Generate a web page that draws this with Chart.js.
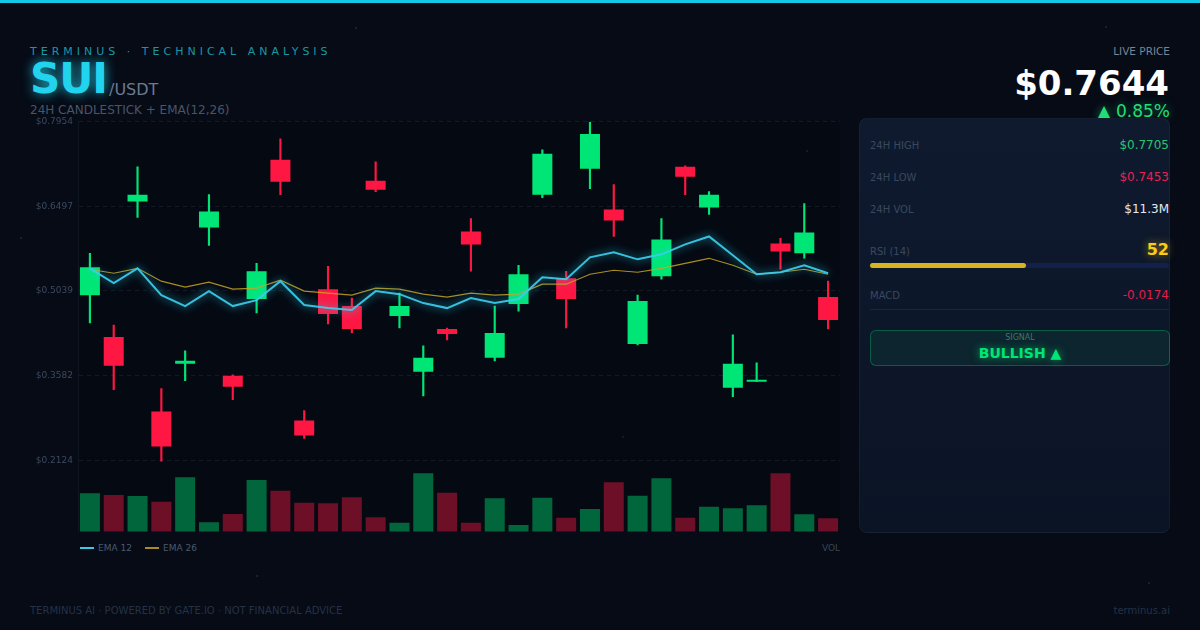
<!DOCTYPE html>
<html>
<head>
<meta charset="utf-8">
<script src="https://cdn.jsdelivr.net/npm/chart.js@4.4.1/dist/chart.umd.min.js"></script>
<style>
  html, body { margin: 0; padding: 0; }
  body {
    width: 1200px; height: 630px; overflow: hidden; position: relative;
    background: #060b16;
    font-family: "DejaVu Sans", sans-serif;
  }
  .topbar { position: absolute; left: 0; top: 0; width: 1200px; height: 3px; background: #14c8e6; }
  .t { position: absolute; white-space: nowrap; line-height: 1; }
  .dot { position: absolute; width: 2px; height: 2px; border-radius: 1px; background: #1c2a40; }
  #wrap { position: absolute; left: 30px; top: 100px; width: 810px; height: 432px; }
  .panel {
    position: absolute; left: 859px; top: 118px; width: 311px; height: 415px;
    border-radius: 8px; box-sizing: border-box;
    background: linear-gradient(180deg, #0f1a2f 0%, #0b1425 100%);
    border: 1px solid rgba(255,255,255,0.04);
  }
  .lbl { font-size: 10px; color: #3a485e; }
  .val { font-size: 12px; right: 31px; }
</style>
</head>
<body>
<div class="topbar"></div>
<div class="dot" style="left:355px;top:27px"></div>
<div class="dot" style="left:806px;top:150px"></div>
<div class="dot" style="left:622px;top:436px"></div>
<div class="dot" style="left:1105px;top:26px"></div>
<div class="dot" style="left:1148px;top:582px"></div>
<div class="dot" style="left:20px;top:237px"></div>
<div class="dot" style="left:256px;top:575px"></div>

<div class="t" style="left:30px;top:46px;font-size:11px;letter-spacing:4px;color:#1b96a6">TERMINUS · TECHNICAL ANALYSIS</div>
<div class="t" style="left:30px;top:58px;font-size:42px;font-weight:bold;letter-spacing:-1px;color:#22d3ee;text-shadow:0 0 12px rgba(34,211,238,0.85)">SUI</div>
<div class="t" style="left:109px;top:82px;font-size:16px;color:#6b7a90">/USDT</div>
<div class="t" style="left:30px;top:104px;font-size:12px;color:#485569">24H CANDLESTICK + EMA(12,26)</div>

<div class="t" style="right:30px;top:46px;font-size:10.5px;color:#7b8494">LIVE PRICE</div>
<div class="t" style="right:31px;top:66px;font-size:34px;font-weight:bold;color:#ffffff">$0.7644</div>
<div class="t" style="right:30px;top:103px;font-size:17px;color:#22dd77;text-shadow:0 0 8px rgba(34,221,119,0.5)">▲ 0.85%</div>

<div class="panel"></div>
<div class="t lbl" style="left:870px;top:141px">24H HIGH</div>
<div class="t val" style="top:139px;color:#27c76f">$0.7705</div>
<div class="t lbl" style="left:870px;top:173px">24H LOW</div>
<div class="t val" style="top:171px;color:#e8214f">$0.7453</div>
<div class="t lbl" style="left:870px;top:205px">24H VOL</div>
<div class="t val" style="top:203px;color:#e5e8ee">$11.3M</div>
<div class="t lbl" style="left:870px;top:247px">RSI (14)</div>
<div class="t" style="right:31px;top:242px;font-size:16px;font-weight:bold;color:#facc15;text-shadow:0 0 8px rgba(250,204,21,0.6)">52</div>
<div style="position:absolute;left:870px;top:263px;width:299px;height:5px;border-radius:3px;background:#12204a"></div>
<div style="position:absolute;left:870px;top:263px;width:156px;height:5px;border-radius:3px;background:#d6b320"></div>
<div class="t lbl" style="left:870px;top:291px">MACD</div>
<div class="t val" style="top:289px;color:#e11d48">-0.0174</div>
<div style="position:absolute;left:870px;top:309px;width:299px;height:1px;background:rgba(255,255,255,0.06)"></div>
<div style="position:absolute;left:870px;top:330px;width:300px;height:36px;box-sizing:border-box;border-radius:6px;border:1px solid rgba(0,230,118,0.3);background:rgba(0,230,118,0.07)"></div>
<div class="t" style="left:870px;width:300px;text-align:center;top:334px;font-size:8px;color:#3d7a6c">SIGNAL</div>
<div class="t" style="left:870px;width:300px;text-align:center;top:346px;font-size:14px;font-weight:bold;color:#00e676;text-shadow:0 0 8px rgba(0,230,118,0.7)">BULLISH ▲</div>

<div id="wrap"><canvas id="chart"></canvas></div>

<div style="position:absolute;left:80px;top:547px;width:14px;height:2px;background:#3cc8e6"></div>
<div class="t" style="left:98px;top:544px;font-size:9px;color:#4a5a70">EMA 12</div>
<div style="position:absolute;left:145px;top:547px;width:14px;height:2px;background:#a88c22"></div>
<div class="t" style="left:163px;top:544px;font-size:9px;color:#4a5a70">EMA 26</div>
<div class="t" style="right:360px;top:544px;font-size:9px;color:#3a4658">VOL</div>

<div class="t" style="left:30px;top:606px;font-size:10px;color:#253246">TERMINUS AI · POWERED BY GATE.IO · NOT FINANCIAL ADVICE</div>
<div class="t" style="right:30px;top:606px;font-size:10px;color:#253246">terminus.ai</div>

<script>
var candles = ['01','02','03','04','05','06','07','08','09','10','11','12','13','14','15','16',
               '17','18','19','20','21','22','23','24','25','26','27','28','29','30','31','32'];
var opens  = [0.4966, 0.4247, 0.6576, 0.2963, 0.3785, 0.6130, 0.3579, 0.4898, 0.7295, 0.2809, 0.5069, 0.4778, 0.6935, 0.4606, 0.3648, 0.4384,
              0.6062, 0.3887, 0.4812, 0.6695, 0.5257, 0.7141, 0.6439, 0.4127, 0.5291, 0.7175, 0.6473, 0.3374, 0.3476, 0.5856, 0.5685, 0.4932];
var closes = [0.5445, 0.3750, 0.6695, 0.2363, 0.3836, 0.6404, 0.3391, 0.5377, 0.6918, 0.2552, 0.4641, 0.4384, 0.6781, 0.4778, 0.3887, 0.4298,
              0.5839, 0.4315, 0.5326, 0.7397, 0.4898, 0.7740, 0.6250, 0.4863, 0.5925, 0.7004, 0.6695, 0.3785, 0.3511, 0.5719, 0.6045, 0.4538];
var highs  = [0.5685, 0.4452, 0.7175, 0.3356, 0.4007, 0.6695, 0.3596, 0.5514, 0.7654, 0.2980, 0.5463, 0.4915, 0.7261, 0.5000, 0.4093, 0.4401,
              0.6285, 0.4778, 0.5480, 0.7466, 0.5377, 0.7945, 0.6867, 0.4966, 0.6285, 0.7192, 0.6747, 0.4281, 0.3802, 0.5942, 0.6541, 0.5206];
var lows   = [0.4487, 0.3339, 0.6302, 0.2107, 0.3493, 0.5822, 0.3168, 0.4658, 0.6695, 0.2500, 0.4469, 0.4315, 0.6747, 0.4401, 0.3230, 0.4196,
              0.5377, 0.3836, 0.4692, 0.6644, 0.4401, 0.6798, 0.5976, 0.4110, 0.5240, 0.6695, 0.6353, 0.3220, 0.3476, 0.5411, 0.5600, 0.4384];
var ema12  = [0.5428, 0.5172, 0.5428, 0.4966, 0.4778, 0.5035, 0.4778, 0.4880, 0.5206, 0.4795, 0.4743, 0.4709, 0.5035, 0.4983, 0.4829, 0.4743,
              0.4915, 0.4829, 0.4898, 0.5274, 0.5240, 0.5617, 0.5702, 0.5582, 0.5668, 0.5839, 0.5976, 0.5651, 0.5326, 0.5360, 0.5480, 0.5343];
var ema26  = [0.5411, 0.5343, 0.5428, 0.5206, 0.5103, 0.5189, 0.5069, 0.5086, 0.5223, 0.5035, 0.5000, 0.4966, 0.5086, 0.5069, 0.4983, 0.4932,
              0.5000, 0.4966, 0.4983, 0.5154, 0.5154, 0.5326, 0.5394, 0.5360, 0.5428, 0.5514, 0.5600, 0.5480, 0.5326, 0.5360, 0.5411, 0.5326];
// volume, thousands USDT
var volumes = [387, 370, 360, 303, 547, 97, 180, 520, 413, 293, 287, 347, 147, 93, 587, 393,
               93, 337, 70, 343, 143, 230, 497, 363, 537, 143, 253, 237, 267, 587, 177, 137];
var priceTicks = [0.7954, 0.6497, 0.5039, 0.3582, 0.2124];

var GREEN = '#00e676', RED = '#ff1744';
var up = opens.map(function (o, i) { return closes[i] >= o; });
var candleColors = up.map(function (u) { return u ? GREEN : RED; });
var volColors = up.map(function (u) { return u ? 'rgba(0,230,118,0.42)' : 'rgba(255,23,68,0.42)'; });

var glowPlugin = {
    id: 'glow',
    beforeDraw: function (chart) {
        var a = chart.chartArea, c = chart.ctx;
        c.save();
        c.fillStyle = 'rgba(0,0,0,0.18)';
        c.fillRect(a.left, a.top, a.right - a.left, a.bottom - a.top);
        c.restore();
    },
    beforeDatasetDraw: function (chart, args) {
        var ds = chart.data.datasets[args.index];
        if (ds.glow) {
            chart.ctx.save();
            chart.ctx.shadowColor = ds.glow;
            chart.ctx.shadowBlur = ds.glowBlur || 8;
        }
    },
    afterDatasetDraw: function (chart, args) {
        if (chart.data.datasets[args.index].glow) chart.ctx.restore();
    }
};

var ctx = document.getElementById('chart').getContext('2d');
var chart = new Chart(ctx, {
    data: {
        labels: candles,
        datasets: [{
            type: 'line',
            label: 'EMA 12',
            data: ema12,
            borderColor: 'rgba(60,205,235,0.92)',
            borderWidth: 2,
            pointRadius: 0,
            tension: 0,
            glow: 'rgba(34,211,238,0.95)',
            glowBlur: 9,
            order: 0
        }, {
            type: 'line',
            label: 'EMA 26',
            data: ema26,
            borderColor: 'rgba(200,165,35,0.85)',
            borderWidth: 1.2,
            pointRadius: 0,
            tension: 0,
            order: 1
        }, {
            type: 'bar',
            label: 'body',
            data: opens.map(function (o, i) { return [o, closes[i]]; }),
            backgroundColor: candleColors,
            borderWidth: 0,
            borderSkipped: false,
            minBarLength: 2,
            barPercentage: 0.84,
            categoryPercentage: 1,
            grouped: false,
            order: 2
        }, {
            type: 'bar',
            label: 'wick',
            data: lows.map(function (l, i) { return [l, highs[i]]; }),
            backgroundColor: candleColors,
            borderWidth: 0,
            barThickness: 1.5,
            grouped: false,
            order: 3
        }, {
            type: 'bar',
            label: 'volume',
            data: volumes,
            yAxisID: 'vol',
            backgroundColor: volColors,
            borderWidth: 0,
            barPercentage: 0.84,
            categoryPercentage: 1,
            grouped: false,
            order: 4
        }]
    },
    options: {
        responsive: true,
        maintainAspectRatio: false,
        animation: false,
        layout: { padding: { top: 21.5, left: 0, right: 0, bottom: 0 } },
        plugins: { legend: { display: false }, tooltip: { enabled: false } },
        scales: {
            x: { display: false, offset: true },
            y: {
                position: 'left',
                min: 0.0890,
                max: 0.7954,
                afterBuildTicks: function (s) { s.ticks = priceTicks.map(function (v) { return { value: v }; }); },
                afterFit: function (s) { s.width = 48; s.paddingTop = 0; s.paddingBottom = 0; },
                ticks: {
                    color: '#3c4a5f',
                    font: { family: 'DejaVu Sans', size: 9 },
                    padding: 5,
                    callback: function (v) { return '$' + Number(v).toFixed(4); }
                },
                grid: { color: 'rgba(120,140,170,0.13)', drawTicks: false, tickLength: 0 },
                border: { display: true, color: 'rgba(120,140,170,0.1)', dash: [4, 4] }
            },
            vol: {
                position: 'right',
                min: 0,
                max: Math.max.apply(null, volumes) * 7,
                afterFit: function (s) { s.width = 0; s.paddingTop = 0; s.paddingBottom = 0; },
                ticks: { display: false },
                grid: { drawOnChartArea: false, drawTicks: false },
                border: { display: true, color: 'rgba(120,140,170,0.1)' }
            }
        }
    },
    plugins: [glowPlugin]
});
</script>
</body>
</html>
